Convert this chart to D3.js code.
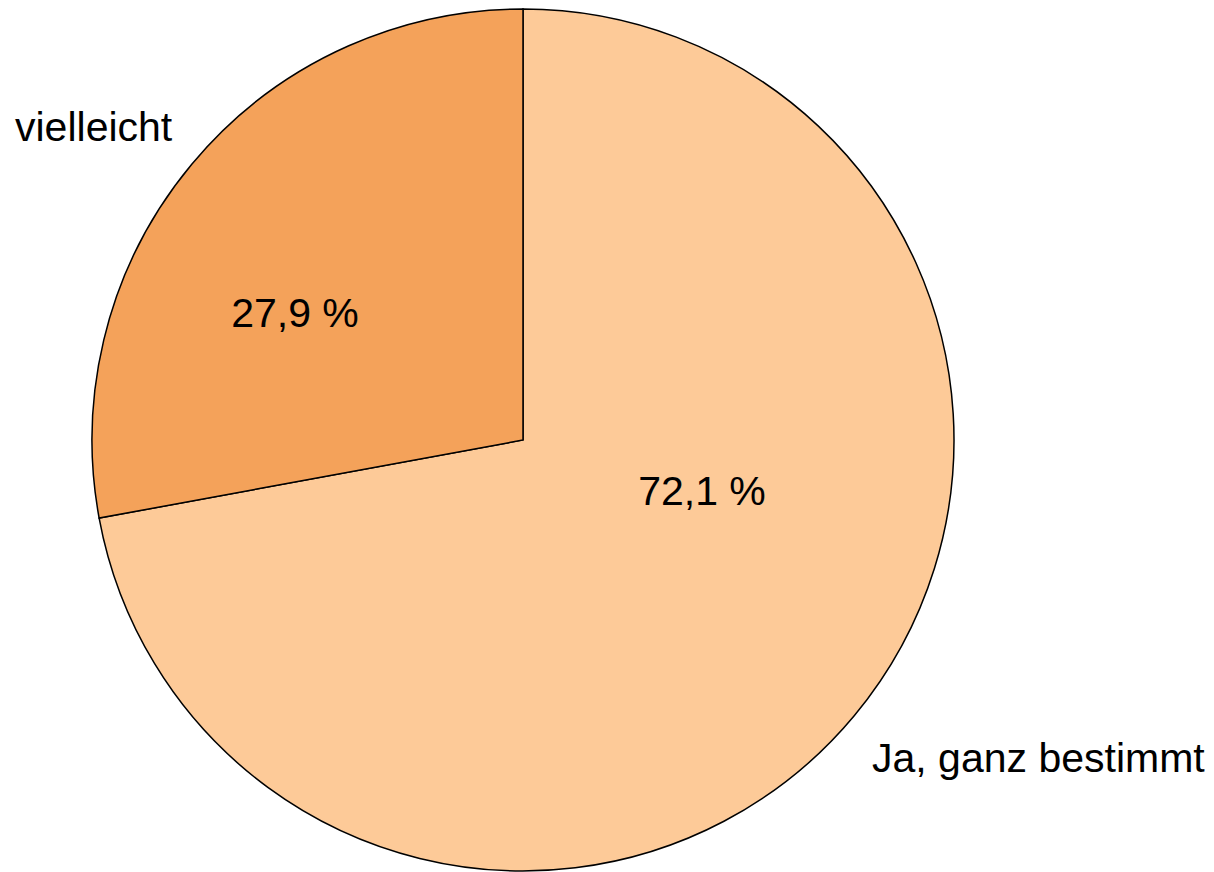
<!DOCTYPE html>
<html>
<head>
<meta charset="utf-8">
<script src="https://cdn.jsdelivr.net/npm/d3@7"></script>
<style>
  html, body { margin: 0; padding: 0; background: #fff; }
  svg { display: block; }
  text { font-family: "Liberation Sans", Arial, sans-serif; fill: #000; }
</style>
</head>
<body>
<svg id="chart" width="1214" height="872"></svg>
<script>
const categories = ["Ja, ganz bestimmt", "vielleicht"];
const shares = [72.1, 27.9];
const colours = ["#fdca98", "#f4a25a"];

const width = 1214, height = 872;
const cx = 523, cy = 440, radius = 431;

// where Excel put the labels, relative to the pie centre
const pctOffsets = [[179, 65], [-228, -113]];
const nameOffsets = [[349, 332, "start"], [-508, -299, "start"]];

const svg = d3.select("#chart");
const g = svg.append("g").attr("transform", "translate(" + cx + "," + cy + ")");

const pie = d3.pie().sort(null).value(d => d)(shares);
const arc = d3.arc().innerRadius(0).outerRadius(radius);

g.selectAll("path.slice")
  .data(pie)
  .enter()
  .append("path")
  .attr("class", "slice")
  .attr("d", arc)
  .style("fill", (d, i) => colours[i])
  .style("stroke", "#000")
  .style("stroke-width", 1.5)
  .style("stroke-linejoin", "miter");

const fmt = v => d3.format(".1f")(v).replace(".", ",") + " %";

g.selectAll("text.pct")
  .data(pie)
  .enter()
  .append("text")
  .attr("class", "pct")
  .attr("x", (d, i) => pctOffsets[i][0])
  .attr("y", (d, i) => pctOffsets[i][1])
  .attr("text-anchor", "middle")
  .style("font-size", "41px")
  .text(d => fmt(d.data));

g.selectAll("text.name")
  .data(categories)
  .enter()
  .append("text")
  .attr("class", "name")
  .attr("x", (d, i) => nameOffsets[i][0])
  .attr("y", (d, i) => nameOffsets[i][1])
  .attr("text-anchor", (d, i) => nameOffsets[i][2])
  .style("font-size", "41px")
  .text(d => d);
</script>
</body>
</html>
